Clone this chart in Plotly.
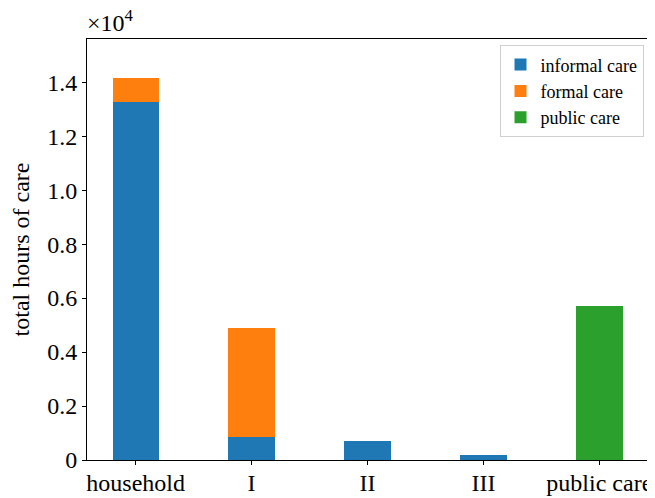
import plotly.graph_objects as go

categories = ["household", "I", "II", "III", "public care"]
informal_care = [13270, 850, 710, 180, 0]
formal_care = [900, 4050, 0, 0, 0]
public_care = [0, 0, 0, 0, 5700]
y_ticks = [0, 2000, 4000, 6000, 8000, 10000, 12000, 14000]
y_tick_labels = ["0", "0.2", "0.4", "0.6", "0.8", "1.0", "1.2", "1.4"]

FONT = "Liberation Serif, Times New Roman, serif"
xpos = list(range(len(categories)))

fig = go.Figure()
for name, vals, color in [
    ("informal care", informal_care, "#1f77b4"),
    ("formal care", formal_care, "#ff7f0e"),
    ("public care", public_care, "#2ca02c"),
]:
    fig.add_trace(go.Bar(x=xpos, y=vals, name=name, width=0.4,
                         marker=dict(color=color, line=dict(width=0))))

# page body has an 8px margin, so the figure is sized/offset to compensate
fig.update_layout(
    barmode="stack",
    width=647, height=490,
    margin=dict(l=79, r=7, t=31, b=38, autoexpand=False),
    paper_bgcolor="white", plot_bgcolor="white",
    font=dict(family=FONT, size=24, color="black"),
    showlegend=True,
    legend=dict(x=0.992, y=0.985, xanchor="right", yanchor="top",
                traceorder="normal",
                bgcolor="white", bordercolor="#d0d0d0", borderwidth=1,
                font=dict(family=FONT, size=18), tracegroupgap=0,
                itemwidth=30),
)
fig.update_xaxes(range=[-0.42, 4.42], tickvals=xpos, ticktext=categories,
                 showline=True, linecolor="black", linewidth=1, mirror=True,
                 ticks="outside", ticklen=4, tickcolor="black", showgrid=False,
                 zeroline=False, automargin=False, ticklabelstandoff=-3,
                 tickfont=dict(family=FONT, size=24))
fig.update_yaxes(range=[0, 15600], tickvals=y_ticks, ticktext=y_tick_labels,
                 showline=True, linecolor="black", linewidth=1, mirror=True,
                 ticks="outside", ticklen=4, tickcolor="black", showgrid=False,
                 zeroline=False, automargin=True,
                 tickfont=dict(family=FONT, size=24),
                 title=dict(text="total hours of care", standoff=16,
                            font=dict(family=FONT, size=24)))
fig.add_annotation(xref="paper", yref="paper", x=0, y=1, xanchor="left",
                   yanchor="bottom", yshift=1, xshift=-2, showarrow=False,
                   text="×10<sup>4</sup>", font=dict(family=FONT, size=24))

fig.write_html("out.html")
